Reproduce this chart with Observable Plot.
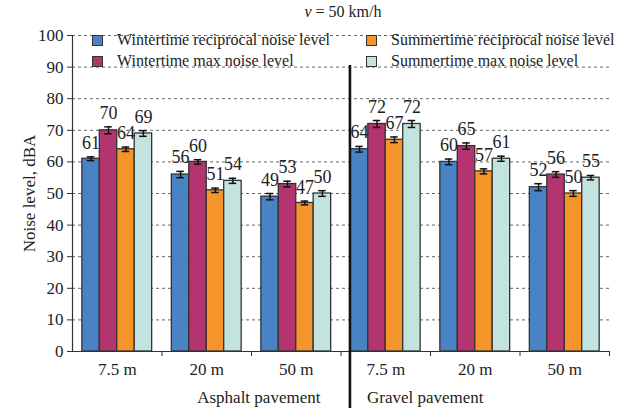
<!DOCTYPE html>
<html>
<head>
<meta charset="utf-8">
<script src="https://cdn.jsdelivr.net/npm/d3@7"></script>
<script src="https://cdn.jsdelivr.net/npm/@observablehq/plot@0.6"></script>
<style>
  body { margin: 0; background: #fff; }
  #wrap { position: relative; width: 620px; height: 412px; font-family: "Liberation Serif", "Times New Roman", serif; color: #222; }
  #wrap svg text { font-family: "Liberation Serif", "Times New Roman", serif; }
  #title { position: absolute; left: 0; width: 686px; top: 2px; text-align: center; font-size: 16px; line-height: 20px; }
  #legend { position: absolute; left: 90px; top: 30px; font-size: 16px; }
  .item { position: absolute; white-space: nowrap; line-height: 20px; height: 20px; }
  .sw { position: absolute; left: 2px; top: 5px; width: 9px; height: 9px; border: 1.5px solid #333; }
  .lbl { position: absolute; left: 27px; top: 0; }
</style>
</head>
<body>
<div id="wrap">
  <div id="title"><i>v</i> = 50 km/h</div>
  <div id="legend"></div>
</div>
<script>
// ---- data ----
const groups = ["7.5 m", "20 m", "50 m", "7.5 m", "20 m", "50 m"];
const pavements = ["Asphalt pavement", "Gravel pavement"];
const series = [
  "Wintertime reciprocal noise level",
  "Wintertime max noise level",
  "Summertime reciprocal noise level",
  "Summertime max noise level"
];
const colors = ["#4a83c4", "#b3346e", "#f4942a", "#c3e3df"];
const winterReciprocal = [61, 56, 49, 64, 60, 52];
const winterMax        = [70, 60, 53, 72, 65, 56];
const summerReciprocal = [64, 51, 47, 67, 57, 50];
const summerMax        = [69, 54, 50, 72, 61, 55];
const winterReciprocalErr = [0.6, 1.0, 1.0, 0.9, 0.9, 1.1];
const winterMaxErr        = [1.1, 0.7, 0.9, 1.1, 1.0, 0.9];
const summerReciprocalErr = [0.7, 0.7, 0.6, 0.9, 0.8, 0.9];
const summerMaxErr        = [0.9, 0.8, 0.9, 1.1, 0.8, 0.7];
const yTicks = [0, 10, 20, 30, 40, 50, 60, 70, 80, 90, 100];

// ---- table ----
const values = [winterReciprocal, winterMax, summerReciprocal, summerMax];
const errs = [winterReciprocalErr, winterMaxErr, summerReciprocalErr, summerMaxErr];
const inset = 0.11, bw = 0.195, cap = 0.042;
const rows = [];
groups.forEach((g, i) => {
  series.forEach((s, j) => {
    const x1 = i + inset + j * bw;
    rows.push({ g: i, s, x1, x2: x1 + bw, xc: x1 + bw / 2, v: values[j][i], e: errs[j][i] });
  });
});
const groupCenters = groups.map((g, i) => ({ x: i + 0.5, label: g }));

const font = '"Liberation Serif", "Times New Roman", serif';

const chart = Plot.plot({
  width: 620,
  height: 412,
  marginLeft: 72,
  marginRight: 11,
  marginTop: 35,
  marginBottom: 61,
  style: `font-family: ${font}; font-size: 16px; color: #222; background: #fff;`,
  x: { type: "linear", domain: [0, groups.length], axis: null },
  y: { domain: [0, 100], axis: null },
  color: { domain: series, range: colors },
  marks: [
    Plot.gridY(yTicks.filter(d => d > 0), { stroke: "#555", strokeOpacity: 1, strokeDasharray: "3,3", strokeWidth: 0.9 }),
    Plot.rectY(rows, { x1: "x1", x2: "x2", y1: 0, y2: "v", fill: "s", stroke: "#333", strokeWidth: 1.3 }),
    Plot.ruleX(rows, { x: "xc", y1: d => d.v - d.e, y2: d => d.v + d.e, stroke: "#111", strokeWidth: 1.5 }),
    Plot.ruleY(rows, { y: d => d.v - d.e, x1: d => d.xc - cap, x2: d => d.xc + cap, stroke: "#111", strokeWidth: 1.5 }),
    Plot.ruleY(rows, { y: d => d.v + d.e, x1: d => d.xc - cap, x2: d => d.xc + cap, stroke: "#111", strokeWidth: 1.5 }),
    Plot.text(rows, { x: "xc", y: d => d.v + d.e, text: d => String(d.v), lineAnchor: "bottom", dy: -8, fontSize: 18, fontFamily: font, fill: "#222" }),
    // axes
    Plot.axisY({ ticks: yTicks, tickSize: 5, tickPadding: 4, label: "Noise level, dBA", labelAnchor: "center", labelArrow: "none", labelOffset: 50, fontSize: 17, fontFamily: font, stroke: "#333" }),
    Plot.ruleX([0], { stroke: "#333", strokeWidth: 1.2 }),
    Plot.ruleY([0], { stroke: "#333", strokeWidth: 1.2 }),
    Plot.axisX({ ticks: d3.range(1, groups.length + 1), tickSize: 5, tickFormat: () => "", stroke: "#333" }),
    Plot.text(groupCenters, { x: "x", text: "label", frameAnchor: "bottom", dy: 23, fontSize: 17, fontFamily: font, fill: "#222" }),
    Plot.text([pavements[0]], { x: 2.77, text: d => d, textAnchor: "end", frameAnchor: "bottom", dy: 51, fontSize: 17, fontFamily: font, fill: "#222" }),
    Plot.text([pavements[1]], { x: 3.29, text: d => d, textAnchor: "start", frameAnchor: "bottom", dy: 51, fontSize: 17, fontFamily: font, fill: "#222" }),
    Plot.ruleX([3.1], { y1: 90.5, y2: -18, stroke: "#111", strokeWidth: 2.6 })
  ]
});
document.getElementById("wrap").prepend(chart);
chart.style.position = "absolute";
chart.style.left = "0";
chart.style.top = "0";

const legend = document.getElementById("legend");
series.forEach((s, j) => {
  const col = j >= 2 ? 1 : 0, row = j % 2;
  const item = document.createElement("div");
  item.className = "item";
  item.style.left = (col * 274) + "px";
  item.style.top = (row * 21) + "px";
  item.innerHTML = `<span class="sw" style="background:${colors[j]}"></span><span class="lbl">${s}</span>`;
  legend.appendChild(item);
});
</script>
</body>
</html>
